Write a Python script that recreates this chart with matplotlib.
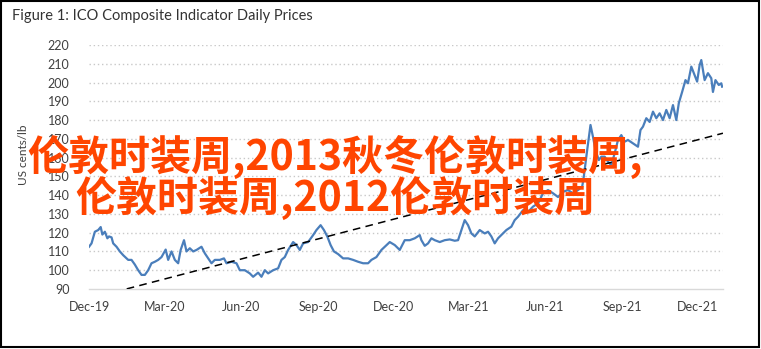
import matplotlib
matplotlib.use("Agg")
import matplotlib.pyplot as plt
import pandas as pd
from matplotlib.patches import Rectangle

title = "Figure 1: ICO Composite Indicator Daily Prices"
ylabel = "US cents/lb"
overlay_lines = ["伦敦时装周,2013秋冬伦敦时装周,", "伦敦时装周,2012伦敦时装周"]

price_dates = [
    "2019-12-01", "2019-12-04", "2019-12-08", "2019-12-12", "2019-12-15", "2019-12-17",
    "2019-12-20", "2019-12-23", "2019-12-25", "2019-12-28", "2019-12-30", "2020-01-03",
    "2020-01-07", "2020-01-11", "2020-01-17", "2020-01-21", "2020-01-25", "2020-01-29",
    "2020-02-02", "2020-02-06", "2020-02-10", "2020-02-14", "2020-02-18", "2020-02-22",
    "2020-02-26", "2020-03-02", "2020-03-05", "2020-03-09", "2020-03-13", "2020-03-17",
    "2020-03-20", "2020-03-24", "2020-03-27", "2020-03-31", "2020-04-04", "2020-04-08",
    "2020-04-14", "2020-04-18", "2020-04-22", "2020-04-26", "2020-04-30", "2020-05-06",
    "2020-05-11", "2020-05-14", "2020-05-20", "2020-05-26", "2020-05-30", "2020-06-05",
    "2020-06-11", "2020-06-15", "2020-06-21", "2020-06-25", "2020-06-29", "2020-07-03",
    "2020-07-09", "2020-07-15", "2020-07-19", "2020-07-23", "2020-07-27", "2020-08-02",
    "2020-08-06", "2020-08-10", "2020-08-14", "2020-08-20", "2020-08-26", "2020-08-30",
    "2020-09-04", "2020-09-08", "2020-09-12", "2020-09-16", "2020-09-20", "2020-09-25",
    "2020-10-01", "2020-10-07", "2020-10-13", "2020-10-19", "2020-10-25", "2020-10-31",
    "2020-11-04", "2020-11-10", "2020-11-16", "2020-11-20", "2020-11-26", "2020-12-02",
    "2020-12-08", "2020-12-14", "2020-12-20", "2020-12-26", "2021-01-01", "2021-01-03",
    "2021-01-07", "2021-01-11", "2021-01-15", "2021-01-19", "2021-01-25", "2021-01-31",
    "2021-02-06", "2021-02-12", "2021-02-16", "2021-02-20", "2021-02-24", "2021-02-28",
    "2021-03-04", "2021-03-08", "2021-03-14", "2021-03-20", "2021-03-24", "2021-03-28",
    "2021-04-01", "2021-04-05", "2021-04-11", "2021-04-15", "2021-04-21", "2021-04-25",
    "2021-04-29", "2021-05-05", "2021-05-11", "2021-05-17", "2021-05-23", "2021-05-29",
    "2021-06-04", "2021-06-10", "2021-06-16", "2021-06-22", "2021-06-28", "2021-07-04",
    "2021-07-10", "2021-07-15", "2021-07-17", "2021-07-21", "2021-07-25", "2021-07-28",
    "2021-07-31", "2021-08-04", "2021-08-07", "2021-08-11", "2021-08-15", "2021-08-19",
    "2021-08-23", "2021-08-27", "2021-08-31", "2021-09-04", "2021-09-08", "2021-09-14",
    "2021-09-20", "2021-09-23", "2021-09-26", "2021-09-30", "2021-10-04", "2021-10-08",
    "2021-10-12", "2021-10-16", "2021-10-20", "2021-10-24", "2021-10-28", "2021-11-01",
    "2021-11-05", "2021-11-08", "2021-11-12", "2021-11-16", "2021-11-19", "2021-11-23",
    "2021-11-27", "2021-11-30", "2021-12-03", "2021-12-05", "2021-12-09", "2021-12-13",
    "2021-12-17", "2021-12-19", "2021-12-22", "2021-12-26", "2021-12-29", "2021-12-30",
]
price_values = [
    112.5, 114.3, 120.5, 121.4, 123.0, 119.0,
    120.5, 117.0, 118.0, 117.5, 114.3, 112.5,
    110.0, 108.0, 105.5, 105.5, 103.0, 100.0,
    97.5, 97.5, 100.0, 103.7, 104.5, 105.5,
    107.0, 111.0, 105.5, 110.0, 105.5, 103.7,
    110.8, 116.0, 110.0, 111.7, 110.0, 110.8,
    112.5, 109.0, 106.3, 103.7, 105.5, 105.5,
    106.3, 103.7, 104.5, 103.7, 100.0, 100.0,
    98.3, 96.5, 98.7, 96.5, 100.0, 98.3,
    100.0, 101.0, 105.5, 107.0, 110.8, 115.0,
    113.4, 110.8, 114.3, 115.0, 118.7, 121.4,
    124.0, 121.4, 118.0, 113.4, 110.0, 108.6,
    106.3, 106.3, 105.5, 104.5, 103.7, 103.7,
    105.5, 107.0, 110.8, 112.5, 115.0, 113.4,
    110.8, 116.0, 116.0, 117.0, 118.7, 116.0,
    113.0, 114.3, 117.0, 116.0, 115.0, 116.0,
    116.4, 115.7, 116.0, 121.4, 126.7, 124.0,
    119.6, 118.0, 121.4, 119.6, 120.5, 118.0,
    114.3, 117.0, 119.6, 121.4, 123.2, 126.7,
    128.5, 132.0, 131.0, 133.9, 135.6, 141.0,
    142.7, 141.0, 139.0, 141.8, 142.7, 141.0,
    142.7, 144.5, 150.0, 164.0, 177.4, 171.0,
    164.0, 158.7, 160.5, 160.5, 157.8, 156.0,
    162.3, 169.4, 172.0, 168.5, 169.4, 167.6,
    165.8, 174.7, 176.5, 181.0, 179.0, 184.5,
    181.0, 183.6, 180.0, 185.4, 181.0, 188.0,
    180.0, 189.0, 195.0, 201.3, 199.6, 208.5,
    204.0, 200.5, 209.3, 212.0, 201.3, 205.0,
    202.3, 195.0, 201.3, 198.7, 199.6, 197.8,
]

trend_dates = ["2019-12-01", "2021-12-31"]
trend_values = [84.8, 173.0]

tick_dates = ["2019-12-01", "2020-03-01", "2020-06-01", "2020-09-01", "2020-12-01",
              "2021-03-01", "2021-06-01", "2021-09-01", "2021-12-01"]
tick_labels = ["Dec-19", "Mar-20", "Jun-20", "Sep-20", "Dec-20",
               "Mar-21", "Jun-21", "Sep-21", "Dec-21"]
y_ticks = list(range(90, 221, 10))

plt.rcParams['font.family'] = ['Lato', 'DejaVu Sans']

fig = plt.figure(figsize=(7.61, 3.49), dpi=100)
ax = fig.add_axes([0.117, 0.172, 0.833, 0.699])

d = pd.to_datetime(price_dates)
ax.plot(d, price_values, color="#4A7EBB", lw=1.6, zorder=3)
ax.plot(pd.to_datetime(trend_dates), trend_values, color="black", lw=1.1,
        linestyle=(0, (5, 3.5)), zorder=4)

ax.set_xlim(pd.Timestamp("2019-12-01"), pd.Timestamp("2021-12-31"))
ax.set_ylim(90, 220)
ax.set_yticks(y_ticks)
ax.set_xticks(pd.to_datetime(tick_dates))
ax.set_xticklabels(tick_labels)
for y in y_ticks[1:]:
    ax.axhline(y, color="#C8C8C8", lw=1.0, linestyle=(0, (1, 2.0)), zorder=1)
for s in ["top", "right", "left"]:
    ax.spines[s].set_visible(False)
ax.spines["bottom"].set_color("#D9D9D9")
ax.spines["bottom"].set_linewidth(1.0)
ax.tick_params(axis="both", length=0, labelsize=9, labelcolor="#404040")
ax.tick_params(axis="y", pad=14)
ax.tick_params(axis="x", pad=9)
ax.set_ylabel(ylabel, fontsize=8.5, color="#404040", labelpad=8)
ax.yaxis.set_label_coords(-0.095, 0.55)

fig.text(0.016, 0.955, title, fontsize=10.5, color="#333333", ha="left", va="center")

fig.text(335/761, 1-158/349, overlay_lines[0], fontsize=29.5, color="#FF4500",
         fontweight="bold", ha="center", va="center",
         family=['Noto Sans CJK SC', 'DejaVu Sans'], zorder=10)
fig.text(335/761, 1-199/349, overlay_lines[1], fontsize=29.5, color="#FF4500",
         fontweight="bold", ha="center", va="center",
         family=['Noto Sans CJK SC', 'DejaVu Sans'], zorder=10)

fig.add_artist(Rectangle((0.001, 0.006), 0.996, 0.992, transform=fig.transFigure,
                         fill=False, edgecolor="black", lw=1.5))

fig.savefig("out.png", dpi=100)
